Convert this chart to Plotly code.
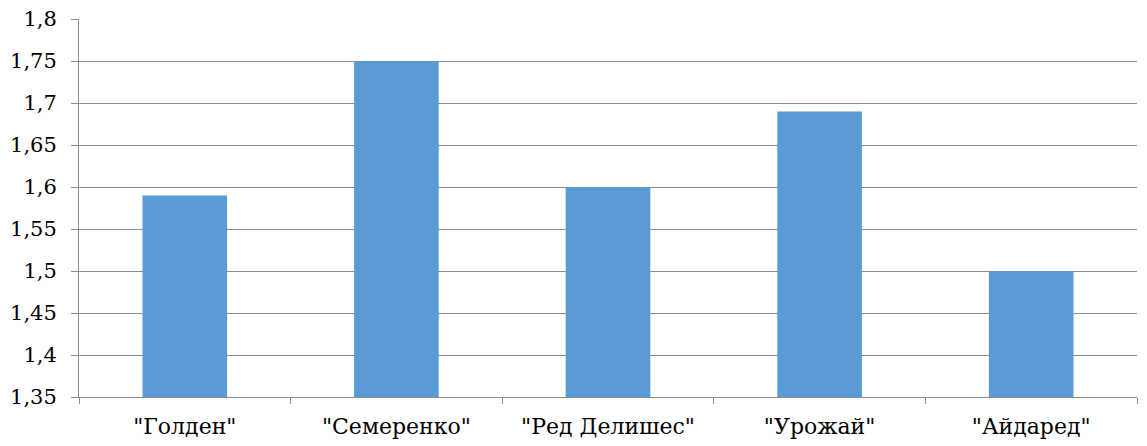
import plotly.graph_objects as go

categories = ['"Голден"', '"Семеренко"', '"Ред Делишес"', '"Урожай"', '"Айдаред"']
values = [1.59, 1.75, 1.60, 1.69, 1.50]
y_ticks = [1.35, 1.4, 1.45, 1.5, 1.55, 1.6, 1.65, 1.7, 1.75, 1.8]

fig = go.Figure(go.Bar(x=categories, y=values, marker=dict(color="#5B9BD5", line=dict(width=0))))

serif = "DejaVu Serif"
fig.update_layout(
    width=1147, height=446,
    margin=dict(l=79, r=10, t=19, b=49, autoexpand=False),
    paper_bgcolor="white", plot_bgcolor="white",
    separators=", ",
    bargap=0.6,
    showlegend=False,
    font=dict(family=serif, size=22, color="black"),
)
fig.update_yaxes(
    range=[1.35, 1.8], tickvals=y_ticks,
    showgrid=True, gridcolor="#8c8c8c", gridwidth=1,
    showline=True, linecolor="#8c8c8c", linewidth=1,
    ticks="outside", ticklen=7, tickcolor="#8c8c8c",
    ticklabelstandoff=10, zeroline=False, automargin=False,
    tickfont=dict(family=serif, size=21, color="black"),
)
fig.update_xaxes(
    showline=True, linecolor="#8c8c8c", linewidth=1,
    ticks="outside", ticklen=6, tickcolor="#8c8c8c",
    tickson="boundaries", showgrid=False, automargin=False,
    ticklabelstandoff=10,
    tickfont=dict(family=serif, size=22, color="black"),
)
fig.write_html("out.html", config={"displayModeBar": False},
               post_script="document.body.style.margin='0';document.body.style.padding='0';")
